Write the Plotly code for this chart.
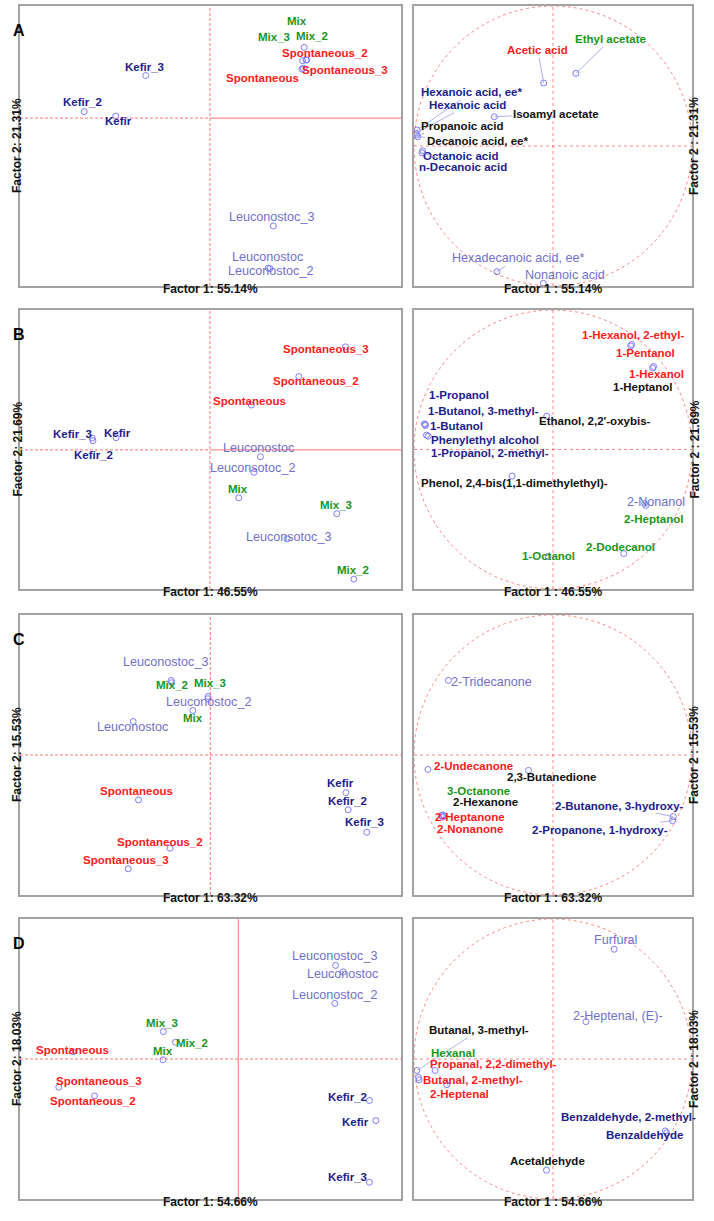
import plotly.graph_objects as go

W, H = 714, 1221

# ---------------- individuals (score plots, left column) ----------------
samples_a = ["Kefir", "Kefir_2", "Kefir_3", "Mix", "Mix_2", "Mix_3",
             "Spontaneous", "Spontaneous_2", "Spontaneous_3",
             "Leuconostoc", "Leuconostoc_2", "Leuconostoc_3"]
samples_b = samples_a[:9] + ["Leuconostoc", "Leuconsotoc_2", "Leuconsotoc_3"]

f1_a = [-2.48, -3.31, -1.69, 2.48, 2.55, 2.44, 2.42, 2.53, 2.46, 1.53, 1.58, 1.67]
f2_a = [0.05, 0.17, 1.12, 1.86, 1.53, 1.51, 1.29, 1.53, 1.31, -3.95, -3.96, -2.84]
f1_b = [-2.47, -3.08, -3.10, 0.76, 3.79, 3.34, 1.09, 2.34, 3.57, 1.33, 1.16, 2.03]
f2_b = [0.32, 0.24, 0.31, -1.26, -3.40, -1.68, 1.18, 1.93, 2.71, -0.18, -0.59, -2.34]
f1_c = [3.57, 3.63, 4.12, -0.46, -1.02, -0.06, -1.89, -1.06, -2.16, -2.03, -0.06, -1.03]
f2_c = [-0.99, -1.44, -2.03, 1.17, 1.90, 1.54, -1.18, -2.45, -2.99, 0.88, 1.48, 1.96]
f1_d = [3.62, 3.45, 3.45, -1.98, -1.65, -1.97, -4.34, -3.78, -4.72, 2.76, 2.54, 2.56]
f2_d = [-1.62, -1.09, -3.24, -0.02, 0.44, 0.72, 0.19, -0.97, -0.74, 2.29, 1.46, 2.46]

# ---------------- variables (correlation circles, right column) ----------------
vars_a = ["Ethyl acetate", "Acetic acid", "Isoamyl acetate", "Hexanoic acid, ee*",
          "Hexanoic acid", "Propanoic acid", "Decanoic acid, ee*", "Octanoic acid",
          "n-Decanoic acid", "Hexadecanoic acid, ee*", "Nonanoic acid"]
v1_a = [0.165, -0.067, -0.422, -0.978, -0.986, -0.981, -0.973, -0.937, -0.942, -0.403, -0.070]
v2_a = [0.519, 0.450, 0.209, 0.114, 0.091, 0.079, 0.066, -0.034, -0.048, -0.898, -0.981]
grp_a = ["m", "s", "o", "k", "k", "o", "o", "k", "k", "l", "l"]

vars_b = ["1-Hexanol, 2-ethyl-", "1-Pentanol", "1-Hexanol", "1-Heptanol", "1-Propanol",
          "1-Butanol, 3-methyl-", "1-Butanol", "Phenylethyl alcohol", "1-Propanol, 2-methyl-",
          "Ethanol, 2,2'-oxybis-", "Phenol, 2,4-bis(1,1-dimethylethyl)-", "2-Nonanol",
          "2-Heptanol", "2-Dodecanol", "1-Octanol"]
v1_b = [0.566, 0.559, 0.724, 0.717, -0.925, -0.920, -0.918, -0.910, -0.898, -0.045,
        -0.294, 0.659, 0.667, 0.509, -0.036]
v2_b = [0.753, 0.742, 0.595, 0.584, 0.184, 0.179, 0.172, 0.103, 0.095, 0.239,
        -0.191, -0.387, -0.401, -0.746, -0.767]
grp_b = ["s", "s", "s", "o", "k", "k", "k", "k", "k", "o", "o", "l", "m", "m", "m"]

vars_c = ["2-Tridecanone", "2-Undecanone", "2,3-Butanedione", "3-Octanone", "2-Hexanone",
          "2-Heptanone", "2-Nonanone", "2-Butanone, 3-hydroxy-", "2-Propanone, 1-hydroxy-"]
v1_c = [-0.753, -0.900, -0.176, -0.791, -0.784, -0.803, -0.794, 0.865, 0.860]
v2_c = [0.533, -0.103, -0.110, -0.428, -0.435, -0.433, -0.442, -0.440, -0.469]
grp_c = ["l", "s", "o", "m", "o", "s", "s", "k", "k"]

vars_d = ["Furfural", "2-Heptenal, (E)-", "Butanal, 3-methyl-", "Hexanal",
          "Propanal, 2,2-dimethyl-", "Butanal, 2-methyl-", "2-Heptenal",
          "Benzaldehyde, 2-methyl-", "Benzaldehyde", "Acetaldehyde"]
v1_d = [0.440, 0.237, -0.979, -0.968, -0.848, -0.963, -0.764, 0.808, 0.817, -0.047]
v2_d = [0.784, 0.267, -0.082, -0.132, -0.082, -0.149, -0.184, -0.514, -0.528, -0.794]
grp_d = ["l", "l", "o", "m", "s", "s", "s", "k", "k", "o"]

# explained variance (factor 1, factor 2)
pct = [(55.14, 21.31), (46.55, 21.69), (63.32, 15.53), (54.66, 18.03)]
letters = ["A", "B", "C", "D"]

# ---------------- label placement (pixel offsets from the point) ----------------
lab_a = [(3, 5), (-2, -10), (-1, -9), (-7, -26), (5, -24), (-29, -24),
         (-39, 9), (19, -7), (42, 2), (-1, -11), (1, 2), (-2, -9)]
lab_b = [(1, -5), (1, 14), (-20, -4), (-1, -9), (-1, -9), (-1, -9),
         (-2, -4), (17, 4), (-20, 2), (-2, -9), (-1, -4), (1, -2)]
lab_c = [(-5, -10), (-1, -9), (-2, -10), (0, 8), (0, 2), (2, -13),
         (-2, -9), (-10, -6), (-2, -9), (-1, 5), (0, 3), (-6, -18)]
lab_d = [(-20, 1), (-22, -3), (-22, -5), (0, -9), (16, 1), (-1, -9),
         (-1, -2), (-2, 5), (40, -6), (-1, 2), (0, -8), (-1, -9)]

vlab_a = [(35, -34), (-6, -33), (62, -3), (55, -38), (52, -28), (45, -9),
          (60, 4), (38, 5), (41, 14), (21, -14), (22, -8)]
vlab_b = [(1, -9), (15, 7), (3, 7), (-10, 19), (35, -29), (58, -14), (31, 0),
          (58, 5), (62, 17), (48, 5), (2, 7), (11, -1), (8, 14), (-3, -7), (0, -1)]
vlab_c = [(43, 2), (46, -3), (23, 7), (35, -24), (41, -14), (29, 1), (27, 12),
          (-54, -11), (-73, 9)]
vlab_d = [(1, -9), (32, -6), (62, -40), (35, -24), (58, -6), (54, 0), (13, 9),
          (-37, -14), (-22, 2), (1, -9)]
vline_a = [True] * 11
vline_b = [False] * 15
vline_c = [False] * 7 + [True, True]
vline_d = [False, True, True, False, False, False, True, False, False, False]

# ---------------- geometry / style ----------------
rows_px = [(6, 286), (310, 589), (615, 895), (919, 1199)]
left_px, right_px = (20, 401), (414, 692)
x_rng = [(-5.0, 5.03), (-5.0, 5.03), (-5.01, 5.02), (-5.74, 4.28)]
y_rng = [(-4.42, 2.95), (-3.66, 3.68), (-3.68, 3.68), (-3.68, 3.68)]
h_split = [True, True, False, False]   # horizontal zero line: dashed left, solid right
v_solid = [False, False, False, True]

FONT = "Liberation Sans, Arial, sans-serif"
COL = {"k": "#1c1c8c", "m": "#1a961a", "s": "#ff1a1a", "l": "#7070cc", "o": "#111111"}
MARK = "#7d7dff"
SEG = "#9a9aee"
BOX = "#a3a3a3"
REF = "rgba(255,70,70,0.75)"


def sample_group(name):
    return {"Kef": "k", "Mix": "m", "Spo": "s", "Leu": "l"}[name[:3]]


def label(xr, yr, x, y, text, g, off, line):
    lilac = g == "l"
    return dict(x=x, y=y, xref=xr, yref=yr, text=text, showarrow=True,
                ax=off[0], ay=off[1], arrowhead=0, arrowwidth=0.8, standoff=0,
                arrowcolor=SEG if line else "rgba(0,0,0,0)",
                font=dict(family=FONT, size=12.6 if lilac else 11.5, color=COL[g],
                          weight="normal" if lilac else "bold"))


scores = [(samples_a, f1_a, f2_a, lab_a), (samples_b, f1_b, f2_b, lab_b),
          (samples_a, f1_c, f2_c, lab_c), (samples_a, f1_d, f2_d, lab_d)]
loadings = [(vars_a, v1_a, v2_a, grp_a, vlab_a, vline_a),
            (vars_b, v1_b, v2_b, grp_b, vlab_b, vline_b),
            (vars_c, v1_c, v2_c, grp_c, vlab_c, vline_c),
            (vars_d, v1_d, v2_d, grp_d, vlab_d, vline_d)]

fig = go.Figure()
layout = {}
annotations = []
shapes = []
title_font = dict(family=FONT, size=12, color="#111111", weight="bold")

for i in range(8):
    n = i + 1
    row, side = divmod(i, 2)
    top, bot = rows_px[row]
    px0, px1 = left_px if side == 0 else right_px
    s = "" if n == 1 else str(n)
    xid, yid = "x" + s, "y" + s
    if side == 0:
        xr, yr = x_rng[row], y_rng[row]
    else:
        xr, yr = (-1.0, 1.0), (-1.0, 1.0)
    ax_style = dict(showline=True, mirror=True, linecolor=BOX, linewidth=1.5,
                    showgrid=False, zeroline=False, showticklabels=False,
                    ticks="", fixedrange=True)
    layout["xaxis" + s] = dict(domain=[px0 / W, px1 / W], range=list(xr),
                               anchor=yid, **ax_style)
    layout["yaxis" + s] = dict(domain=[1 - bot / H, 1 - top / H], range=list(yr),
                               anchor=xid, **ax_style)

    if side == 0:
        names, f1, f2, offs = scores[row]
        fig.add_trace(go.Scatter(x=f1, y=f2, mode="markers", text=names,
                                 hoverinfo="text", showlegend=False,
                                 xaxis=xid, yaxis=yid,
                                 marker=dict(symbol="circle-open", size=6, color=MARK,
                                             line=dict(width=1, color=MARK))))
        for nm, a, b, o in zip(names, f1, f2, offs):
            annotations.append(label(xid, yid, a, b, nm, sample_group(nm), o, False))
        # zero reference lines
        shapes.append(dict(type="line", xref=xid, yref=yid + " domain", x0=0, x1=0,
                           y0=0, y1=1, line=dict(color=REF, width=1,
                                                 dash="solid" if v_solid[row] else "3px,2px")))
        if h_split[row]:
            shapes.append(dict(type="line", xref=xid, yref=yid, x0=xr[0], x1=0, y0=0, y1=0,
                               line=dict(color=REF, width=1, dash="3px,2px")))
            shapes.append(dict(type="line", xref=xid, yref=yid, x0=0, x1=xr[1], y0=0, y1=0,
                               line=dict(color=REF, width=1)))
        else:
            shapes.append(dict(type="line", xref=xid, yref=yid, x0=xr[0], x1=xr[1],
                               y0=0, y1=0, line=dict(color=REF, width=1, dash="3px,2px")))
        xt = "Factor 1: %.2f%%" % pct[row][0]
        yt = "Factor 2: %.2f%%" % pct[row][1]
        annotations.append(dict(xref=xid + " domain", yref=yid + " domain", x=0, y=1,
                                xshift=-9, yshift=-14, text=letters[row], showarrow=False,
                                font=dict(family=FONT, size=16, color="#000000", weight="bold")))
        annotations.append(dict(xref=xid + " domain", yref=yid + " domain", x=0, y=0.5,
                                xshift=-12, text=yt, textangle=-90, showarrow=False,
                                font=title_font))
    else:
        names, v1, v2, grp, offs, lines = loadings[row]
        fig.add_trace(go.Scatter(x=v1, y=v2, mode="markers", text=names,
                                 hoverinfo="text", showlegend=False,
                                 xaxis=xid, yaxis=yid,
                                 marker=dict(symbol="circle-open", size=6, color=MARK,
                                             line=dict(width=1, color=MARK))))
        for nm, a, b, g, o, ln in zip(names, v1, v2, grp, offs, lines):
            annotations.append(label(xid, yid, a, b, nm, g, o, ln))
        circ = dict(color="rgba(255,40,40,0.7)", width=0.8, dash="dot")
        shapes.append(dict(type="circle", xref=xid, yref=yid, x0=-1, y0=-1, x1=1, y1=1,
                           line=circ))
        shapes.append(dict(type="line", xref=xid, yref=yid + " domain", x0=0, x1=0,
                           y0=0, y1=1, line=circ))
        shapes.append(dict(type="line", xref=xid + " domain", yref=yid, x0=0, x1=1,
                           y0=0, y1=0, line=circ))
        xt = "Factor 1 : %.2f%%" % pct[row][0]
        yt = "Factor 2 : %.2f%%" % pct[row][1]
        annotations.append(dict(xref=xid + " domain", yref=yid + " domain", x=1, y=0.5,
                                xshift=11, text=yt, textangle=-90, showarrow=False,
                                font=title_font))
    annotations.append(dict(xref=xid + " domain", yref=yid + " domain", x=0.5, y=0,
                            yshift=-12, text=xt, showarrow=False, font=title_font))

fig.update_layout(width=W, height=H, margin=dict(l=0, r=0, t=0, b=0),
                  paper_bgcolor="white", plot_bgcolor="white",
                  annotations=annotations, shapes=shapes, **layout)

fig.write_html("out.html", config={"displayModeBar": False},
               post_script="document.body.style.margin='0px';")
